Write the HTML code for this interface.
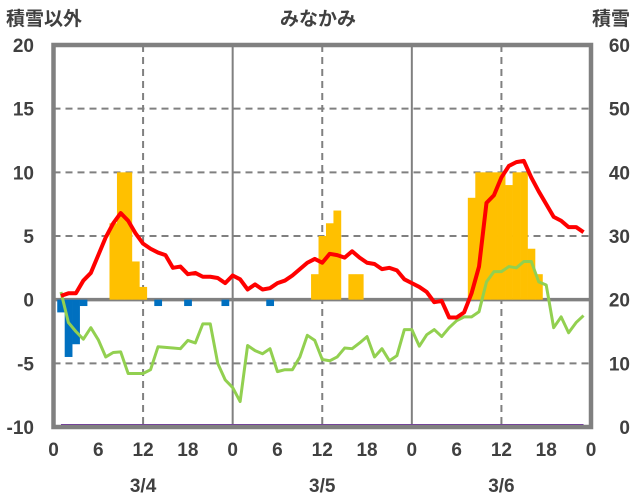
<!DOCTYPE html>
<html><head><meta charset="utf-8">
<style>
html,body{margin:0;padding:0;background:#fff;}
svg{display:block;}
text{font-family:"Liberation Sans","Noto Sans CJK JP",sans-serif;fill:#404040;font-weight:bold;}
</style></head>
<body>
<svg id="chart" width="636" height="501" viewBox="0 0 636 501" xmlns="http://www.w3.org/2000/svg">
<text x="6" y="25" font-size="19">積雪以外</text>
<text x="318" y="25" font-size="19" text-anchor="middle">みなかみ</text>
<text x="630" y="25" font-size="19" text-anchor="end">積雪</text>
<g id="grid"></g>
<g id="bars"></g>
<g id="lines"></g>
<g id="frame"></g>
<g id="labels"></g>
</svg>
<script>
// ---- data ----
const leftTicks = [20, 15, 10, 5, 0, -5, -10];
const rightTicks = [60, 50, 40, 30, 20, 10, 0];
const hourTicks = ["0","6","12","18","0","6","12","18","0","6","12","18","0"];
const dayLabels = ["3/4","3/5","3/6"];
const precipHours = [8,9,10,11,12,35,36,37,38,40,41,56,57,58,59,60,61,62,63,64,65];
const precipValues = [6,10,10,3,1,2,5,6,7,2,2,8,10,10,10,10,9,10,10,4,2];
const windHours = [1,2,3,4,14,18,23,29];
const windValues = [-1,-4.5,-3.5,-0.5,-0.5,-0.5,-0.5,-0.5];
const tempValues = [0.3,0.5,0.5,1.5,2.1,3.5,4.9,6.0,6.8,6.2,5.2,4.4,4.0,3.7,3.5,2.5,2.6,2.0,2.1,1.8,1.8,1.7,1.3,1.9,1.6,0.8,1.2,0.8,0.9,1.3,1.5,1.9,2.4,2.9,3.2,2.9,3.6,3.5,3.3,3.8,3.3,2.9,2.8,2.4,2.5,2.3,1.6,1.3,1.0,0.6,-0.2,-0.1,-1.4,-1.4,-1.0,0.5,2.6,7.6,8.2,9.6,10.5,10.8,10.9,9.6,8.5,7.5,6.5,6.2,5.7,5.7,5.3];
const snowValues = [21.2,16.4,15,13.8,15.6,13.7,11,11.7,11.8,8.4,8.4,8.4,9,12.6,12.5,12.4,12.3,13.6,13.2,16.2,16.2,10,7.4,6.2,4,12.8,12,11.5,12.3,8.7,9,9,11,14.4,13.6,10.6,10.4,11,12.4,12.3,13.2,14.2,11,12.3,10.4,11.2,15.3,15.3,12.7,14.5,15.3,14.2,15.6,16.7,17.3,17.3,18.1,22.8,24.4,24.4,25.2,25,26,26,22.8,22.3,15.6,17.3,14.8,16.4,17.5];
const baseValues = [0, 0];

// ---- axes ----
const X0 = 53.5, X1 = 591, Y0 = 45, Y1 = 427;
const xs = h => X0 + h * (X1 - X0) / 72;
const yl = v => Y1 - (v + 10) * (Y1 - Y0) / 30;
const yr = v => Y1 - v * (Y1 - Y0) / 60;
const NS = "http://www.w3.org/2000/svg";
function mk(tag, parent, attrs) {
  const e = document.createElementNS(NS, tag);
  for (const k in attrs) e.setAttribute(k, attrs[k]);
  parent.appendChild(e);
  return e;
}
const grid = document.getElementById('grid');
const bars = document.getElementById('bars');
const lines = document.getElementById('lines');
const frame = document.getElementById('frame');
const labels = document.getElementById('labels');

leftTicks.forEach((t, i) => {
  if (t !== 20 && t !== -10 && t !== 0) {
    const l = mk('line', grid, {x1: X0, x2: X1, y1: yl(t), y2: yl(t), stroke: '#808080', 'stroke-width': 2, 'stroke-dasharray': '7,5'});
    
    
  }
  const tx = mk('text', labels, {x: 34, y: yl(t) + 7, 'font-size': 19, 'text-anchor': 'end'});
  tx.textContent = t;
  
  
});
rightTicks.forEach(t => {
  const tx = mk('text', labels, {x: 630, y: yr(t) + 7, 'font-size': 19, 'text-anchor': 'end'});
  tx.textContent = t;
  
  
});
hourTicks.forEach((t, i) => {
  const h = i * 6;
  if (h % 24 === 12) {
    const l = mk('line', grid, {x1: xs(h), x2: xs(h), y1: Y0, y2: Y1, stroke: '#808080', 'stroke-width': 2, 'stroke-dasharray': '7,5'});
    
    
  } else if (h % 24 === 0 && h > 0 && h < 72) {
    const l = mk('line', grid, {x1: xs(h), x2: xs(h), y1: Y0, y2: Y1, stroke: '#808080', 'stroke-width': 2});
    
    
  }
  const tx = mk('text', labels, {x: xs(h), y: 456, 'font-size': 19, 'text-anchor': 'middle'});
  tx.textContent = t;
  
  
});
dayLabels.forEach((d, i) => {
  const tx = mk('text', labels, {x: xs(i * 24 + 12), y: 492, 'font-size': 19, 'text-anchor': 'middle'});
  tx.textContent = d;
  
  
});

const bw = (X1 - X0) / 72;
precipHours.forEach((h, i) => {
  const v = precipValues[i];
  const r = mk('rect', bars, {x: xs(h) - bw / 2, y: yl(v), width: bw + 0.3, height: yl(0) - yl(v), fill: '#FFC000'});
  
  
});
windHours.forEach((h, i) => {
  const v = windValues[i];
  const r = mk('rect', bars, {x: xs(h) - bw / 2, y: yl(0), width: bw + 0.3, height: yl(v) - yl(0), fill: '#0070C0'});
  
  
});

const zero = mk('line', grid, {x1: X0, x2: X1, y1: yl(0), y2: yl(0), stroke: '#808080', 'stroke-width': 3.5});



const base = mk('line', lines, {x1: xs(1), x2: xs(71), y1: yr(baseValues[0]) - 1.5, y2: yr(baseValues[1]) - 1.5, stroke: '#7030A0', 'stroke-width': 3});



const sp = mk('polyline', lines, {points: snowValues.map((v, i) => xs(i + 1) + ',' + yr(v)).join(' '), fill: 'none', stroke: '#92D050', 'stroke-width': 3, 'stroke-linejoin': 'round'});


const tp = mk('polyline', lines, {points: tempValues.map((v, i) => xs(i + 1) + ',' + yl(v)).join(' '), fill: 'none', stroke: '#FF0000', 'stroke-width': 4, 'stroke-linejoin': 'round'});



const fr = mk('rect', frame, {x: X0, y: Y0, width: X1 - X0, height: Y1 - Y0, fill: 'none', stroke: '#808080', 'stroke-width': 4.5});


</script>
</body></html>
